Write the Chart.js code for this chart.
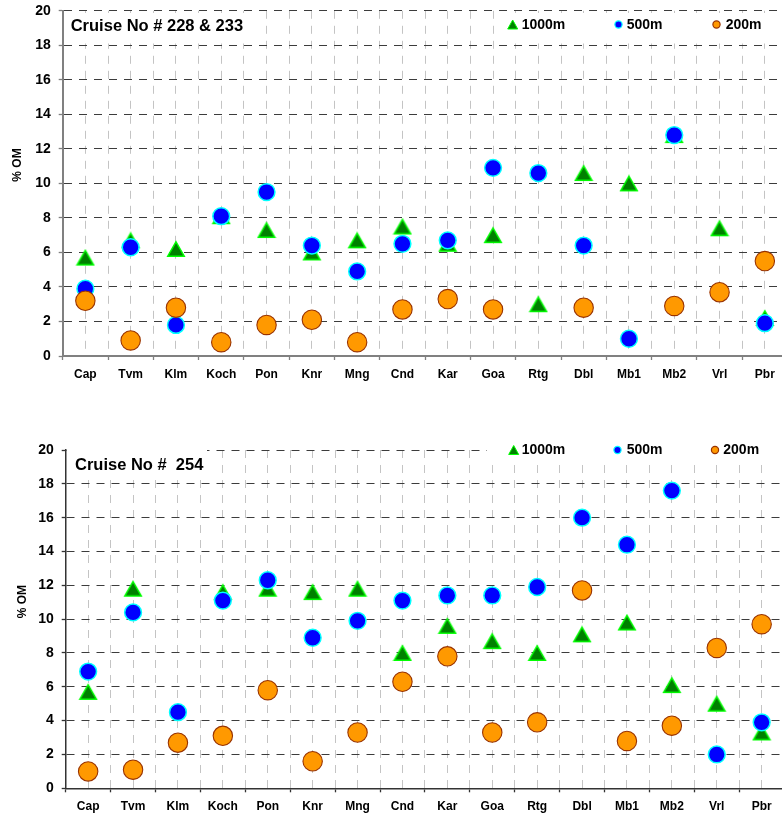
<!DOCTYPE html>
<html>
<head>
<meta charset="utf-8">
<script src="https://cdn.jsdelivr.net/npm/chart.js@4.4.1/dist/chart.umd.min.js"></script>
<style>
html,body{margin:0;padding:0;background:#fff;overflow:hidden;width:782px;height:816px;}
.wrap{position:absolute;left:0;width:800px;}
#w1{top:0;height:400px;}
#w2{top:405px;height:411px;}
canvas{display:block;}
</style>
</head>
<body>
<div class="wrap" id="w1"><canvas id="c1"></canvas></div>
<div class="wrap" id="w2"><canvas id="c2"></canvas></div>
<script>
// ---------- DATA ----------
const stations = ['Cap','Tvm','Klm','Koch','Pon','Knr','Mng','Cnd','Kar','Goa','Rtg','Dbl','Mb1','Mb2','Vrl','Pbr'];
const seriesNames = ['1000m','500m','200m'];
const yTickValues = [0,2,4,6,8,10,12,14,16,18,20];

const title228 = 'Cruise No # 228 & 233';
const om1000_228 = [5.7,6.7,6.2,8.1,7.3,6.0,6.7,7.5,6.5,7.0,3.0,10.6,10.0,12.8,7.4,2.2];
const om500_228  = [3.9,6.3,1.8,8.1,9.5,6.4,4.9,6.5,6.7,10.9,10.6,6.4,1.0,12.8,null,1.9];
const om200_228  = [3.2,0.9,2.8,0.8,1.8,2.1,0.8,2.7,3.3,2.7,null,2.8,null,2.9,3.7,5.5];

const title254 = 'Cruise No #  254';
const om1000_254 = [5.7,11.8,null,11.6,11.8,11.6,11.8,8.0,9.6,8.7,8.0,9.1,9.8,6.1,5.0,3.3];
const om500_254  = [6.9,10.4,4.5,11.1,12.3,8.9,9.9,11.1,11.4,11.4,11.9,16.0,14.4,17.6,2.0,3.9];
const om200_254  = [1.0,1.1,2.7,3.1,5.8,1.6,3.3,6.3,7.8,3.3,3.9,11.7,2.8,3.7,8.3,9.7];

const yAxisTitle = '% OM';

// ---------- STYLE ----------
const FONT = '"Liberation Sans", Arial, Helvetica, sans-serif';
const GREEN = '#008000', LIME = '#00ff00';
const BLUE = '#0000ff', CYAN = '#00ffff';
const ORANGE = '#ff9900', BROWN = '#993300';

function triangleCanvas(w, h, bw) {
  const c = document.createElement('canvas');
  c.width = w + 2; c.height = h + 2;
  const g = c.getContext('2d');
  g.beginPath();
  g.moveTo(c.width / 2, 1 + bw / 2);
  g.lineTo(c.width - 1 - bw / 2, c.height - 1 - bw / 2);
  g.lineTo(1 + bw / 2, c.height - 1 - bw / 2);
  g.closePath();
  g.fillStyle = GREEN; g.fill();
  g.lineWidth = bw; g.strokeStyle = LIME; g.stroke();
  return c;
}
const triImg = triangleCanvas(18, 16, 1.5);

function toPoints(vals) {
  return vals.map((v, i) => ({ x: i, y: v }));
}

const overlayPlugin = {
  id: 'overlay',
  beforeDatasetsDraw(chart, args, o) {
    const ctx = chart.ctx;
    ctx.save();
    ctx.fillStyle = '#fff';
    o.boxes.forEach(b => ctx.fillRect(b[0], b[1], b[2], b[3]));
    ctx.fillStyle = '#000';
    ctx.textBaseline = 'middle';
    ctx.textAlign = 'left';
    ctx.font = 'bold 16.5px ' + FONT;
    ctx.fillText(o.title, o.titleX, o.titleY);
    // legend
    ctx.font = 'bold 14px ' + FONT;
    o.legend.forEach((it, k) => {
      const ds = chart.data.datasets[k];
      const y = o.legendY;
      if (k === 0) {
        ctx.beginPath();
        ctx.moveTo(it.mx, y - 4.5);
        ctx.lineTo(it.mx + 5, y + 4.5);
        ctx.lineTo(it.mx - 5, y + 4.5);
        ctx.closePath();
        ctx.fillStyle = GREEN; ctx.fill();
        ctx.lineWidth = 1; ctx.strokeStyle = LIME; ctx.stroke();
      } else {
        ctx.beginPath();
        ctx.arc(it.mx, y, 3.6, 0, Math.PI * 2);
        ctx.fillStyle = ds.backgroundColor; ctx.fill();
        ctx.lineWidth = 1.2; ctx.strokeStyle = ds.borderColor; ctx.stroke();
      }
      ctx.fillStyle = '#000';
      ctx.fillText(ds.label, it.tx, y + 0.5);
    });
    // y title
    ctx.translate(o.yTitleX, o.yTitleY);
    ctx.rotate(-Math.PI / 2);
    ctx.textAlign = 'center';
    ctx.font = 'bold 12px ' + FONT;
    ctx.fillText(yAxisTitle, 0, 0);
    ctx.restore();
  }
};

function makeChart(id, d1000, d500, d200, geo) {
  return new Chart(document.getElementById(id), {
    type: 'scatter',
    data: {
      datasets: [
        { label: seriesNames[0], data: toPoints(d1000), pointStyle: triImg,
          backgroundColor: GREEN, borderColor: LIME, order: 3 },
        { label: seriesNames[1], data: toPoints(d500), pointStyle: 'circle', pointRadius: 8.4,
          pointBorderWidth: 1.5, backgroundColor: BLUE, borderColor: CYAN, order: 2 },
        { label: seriesNames[2], data: toPoints(d200), pointStyle: 'circle', pointRadius: 9.7,
          pointBorderWidth: 1.1, backgroundColor: ORANGE, borderColor: BROWN, order: 1 }
      ]
    },
    options: {
      responsive: true,
      maintainAspectRatio: false,
      animation: false,
      devicePixelRatio: 1,
      events: [],
      layout: { padding: { left: 0, right: geo.padRight, top: geo.padTop, bottom: 0 } },
      plugins: {
        legend: { display: false },
        tooltip: { enabled: false },
        overlay: geo.overlay
      },
      scales: {
        x: {
          type: 'linear', min: -0.5, max: 15.5,
          ticks: {
            stepSize: 0.5, autoSkip: false, maxRotation: 0, minRotation: 0,
            padding: 7.5, color: '#000',
            font: { family: FONT, size: 12, weight: 'bold' },
            callback: (v) => Number.isInteger(v) ? stations[v] : ''
          },
          grid: {
            color: '#c4c4c4', lineWidth: 1, drawTicks: true, tickLength: 4,
            tickColor: (c) => (c.tick && !Number.isInteger(c.tick.value)) ? geo.axisColor : 'rgba(0,0,0,0)',
            tickBorderDash: [], tickWidth: 1.3
          },
          border: { display: true, color: geo.axisColor, width: geo.axisWidth, dash: [8, 7] },
          afterFit: (s) => { s.height = geo.xAxisHeight; s.paddingLeft = 0; s.paddingRight = 0; }
        },
        y: {
          min: 0, max: 20,
          afterBuildTicks: (s) => { s.ticks = yTickValues.map(v => ({ value: v })); },
          ticks: {
            stepSize: 2, padding: 8, color: '#000',
            font: { family: FONT, size: 14, weight: 'bold' }
          },
          grid: {
            color: '#3c3c3c', lineWidth: 1, drawTicks: true, tickLength: 4,
            tickColor: geo.axisColor, tickBorderDash: [], tickWidth: 1.3
          },
          border: { display: true, color: geo.axisColor, width: geo.axisWidth, dash: [8, 7] },
          afterFit: (s) => { s.width = geo.yAxisWidth; s.paddingTop = 0; s.paddingBottom = 0; }
        }
      }
    },
    plugins: [overlayPlugin]
  });
}

makeChart('c1', om1000_228, om500_228, om200_228, {
  padRight: 12.5, padTop: 10.7, xAxisHeight: 44, yAxisWidth: 62.7,
  axisColor: '#808080', axisWidth: 2,
  overlay: {
    title: title228, titleX: 70.7, titleY: 26.5,
    boxes: [[64, 13, 186, 30.5], [497, 13, 300, 30.5]],
    legendY: 24.5,
    legend: [{ mx: 512.7, tx: 521.7 }, { mx: 618.5, tx: 626.7 }, { mx: 716.5, tx: 725.7 }],
    yTitleX: 17.3, yTitleY: 165
  }
});

makeChart('c2', om1000_254, om500_254, om200_254, {
  padRight: 15.9, padTop: 45, xAxisHeight: 27.7, yAxisWidth: 65.7,
  axisColor: '#333333', axisWidth: 1.5,
  overlay: {
    title: title254, titleX: 75, titleY: 60,
    boxes: [[67, 36, 140, 36], [487, 35, 310, 22]],
    legendY: 45,
    legend: [{ mx: 513.7, tx: 521.7 }, { mx: 617.5, tx: 626.7 }, { mx: 715, tx: 723.3 }],
    yTitleX: 22.7, yTitleY: 196.7
  }
});
</script>
</body>
</html>
